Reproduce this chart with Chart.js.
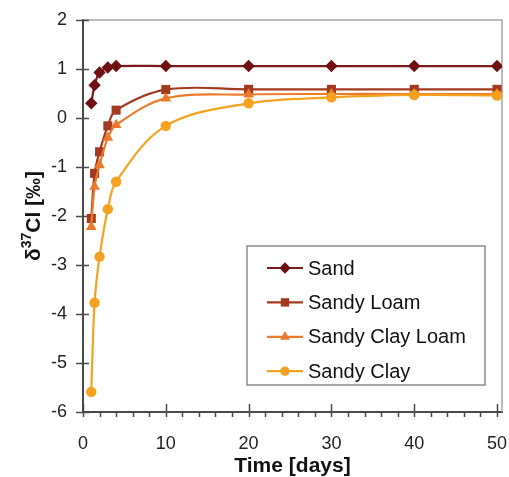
<!DOCTYPE html>
<html><head><meta charset="utf-8">
<style>html,body{margin:0;padding:0;background:#fff}</style>
</head><body>
<canvas id="c" width="509" height="477" style="display:block;width:509px;height:477px"></canvas>
<script src="https://cdn.jsdelivr.net/npm/chart.js@4/dist/chart.umd.min.js"></script>
<script>
// ---- data ----
const days = [1, 1.4, 2, 3, 4, 10, 20, 30, 40, 50];
const sand = [0.30, 0.67, 0.93, 1.03, 1.06, 1.06, 1.06, 1.06, 1.06, 1.06];
const sandyLoam = [-2.05, -1.13, -0.69, -0.16, 0.16, 0.58, 0.585, 0.585, 0.585, 0.585];
const sandyClayLoam = [-2.22, -1.40, -0.96, -0.40, -0.14, 0.40, 0.48, 0.49, 0.49, 0.49];
const sandyClay = [-5.59, -3.77, -2.83, -1.86, -1.30, -0.16, 0.30, 0.42, 0.47, 0.46];
const seriesNames = ['Sand', 'Sandy Loam', 'Sandy Clay Loam', 'Sandy Clay'];
const xTickValues = [0, 10, 20, 30, 40, 50];
const yTickValues = [-6, -5, -4, -3, -2, -1, 0, 1, 2];
const xTitle = 'Time [days]';

const FONT = "'Liberation Sans', Arial, Helvetica, sans-serif";
const pts = arr => days.map((d, i) => ({x: d, y: arr[i]}));

const styles = [
  {line: '#7a1a1c', fill: '#6e0f12', pointStyle: 'rectRot', radius: 6.2},
  {line: '#a3391f', fill: '#a3391f', pointStyle: 'rect', radius: 6.4},
  {line: '#ec7a2c', fill: '#ec7a2c', pointStyle: 'triangle', radius: 6.2},
  {line: '#f4a21f', fill: '#f4a21f', pointStyle: 'circle', radius: 5.2}
];
const seriesData = [sand, sandyLoam, sandyClayLoam, sandyClay];

const datasets = seriesData.map((arr, i) => ({
  label: seriesNames[i],
  data: pts(arr),
  borderColor: styles[i].line,
  backgroundColor: styles[i].fill,
  pointBackgroundColor: styles[i].fill,
  pointBorderColor: styles[i].fill,
  pointBorderWidth: 0,
  pointStyle: styles[i].pointStyle,
  pointRadius: styles[i].radius,
  borderWidth: 2.2,
  tension: 0.35,
  order: 3 - i
}));

const decorPlugin = {
  id: 'decor',
  beforeDatasetsDraw(chart) {
    const {ctx, chartArea: a, scales: {x, y}} = chart;
    ctx.save();
    // frame top/right
    ctx.strokeStyle = '#a6a6a6';
    ctx.lineWidth = 1.5;
    ctx.beginPath();
    ctx.moveTo(a.left, a.top); ctx.lineTo(a.right, a.top); ctx.lineTo(a.right, a.bottom);
    ctx.stroke();
    // ticks
    ctx.strokeStyle = '#4a4a4a';
    ctx.lineWidth = 1.5;
    ctx.beginPath();
    xTickValues.forEach(v => {
      const px = Math.round(x.getPixelForValue(v)) + 0.5;
      ctx.moveTo(px, a.bottom - 8); ctx.lineTo(px, a.bottom + 5);
    });
    for (let v = 2; v < 50; v += 2) {
      if (v % 10 === 0) continue;
      const px = Math.round(x.getPixelForValue(v)) + 0.5;
      ctx.moveTo(px, a.bottom); ctx.lineTo(px, a.bottom + 5);
    }
    yTickValues.forEach(v => {
      const py = Math.round(y.getPixelForValue(v)) + 0.5;
      ctx.moveTo(a.left - 7, py); ctx.lineTo(a.left + 6, py);
    });
    ctx.stroke();
    // y title with superscript
    ctx.translate(40, (a.top + a.bottom) / 2);
    ctx.rotate(-Math.PI / 2);
    ctx.fillStyle = '#111';
    ctx.textBaseline = 'alphabetic';
    const mainF = 'bold 21px ' + FONT, supF = 'bold 14px ' + FONT;
    const parts = [['\u03B4', mainF, 0], ['37', supF, -9], ['Cl [\u2030]', mainF, 0]];
    let total = 0;
    parts.forEach(p => { ctx.font = p[1]; p.push(ctx.measureText(p[0]).width); total += p[3]; });
    let cx = -total / 2;
    parts.forEach(p => { ctx.font = p[1]; ctx.fillText(p[0], cx, p[2]); cx += p[3]; });
    ctx.restore();
  },
  afterDraw(chart) {
    const {ctx} = chart;
    ctx.save();
    const box = {l: 247, t: 246, r: 485, b: 385};
    ctx.fillStyle = '#fff';
    ctx.fillRect(box.l, box.t, box.r - box.l, box.b - box.t);
    ctx.strokeStyle = '#8a8a8a';
    ctx.lineWidth = 1.5;
    ctx.strokeRect(box.l, box.t, box.r - box.l, box.b - box.t);
    chart.data.datasets.forEach((ds, i) => {
      const yy = 268 + i * 34.4;
      ctx.strokeStyle = ds.borderColor;
      ctx.lineWidth = 2.2;
      ctx.beginPath(); ctx.moveTo(267, yy); ctx.lineTo(303, yy); ctx.stroke();
      ctx.fillStyle = ds.pointBackgroundColor;
      ctx.strokeStyle = ds.pointBorderColor;
      Chart.helpers.drawPoint(ctx, {pointStyle: ds.pointStyle, radius: ds.pointRadius - 0.5, rotation: 0, borderWidth: 0}, 285, yy);
      ctx.fillStyle = '#111';
      ctx.font = '20px ' + FONT;
      ctx.textBaseline = 'middle';
      ctx.fillText(ds.label, 308, yy + 1);
    });
    ctx.restore();
  }
};

new Chart(document.getElementById('c'), {
  type: 'line',
  data: {datasets},
  options: {
    responsive: false,
    animation: false,
    devicePixelRatio: 1,
    layout: {padding: {top: 20, right: 7, left: 0, bottom: 0}},
    plugins: {legend: {display: false}, tooltip: {enabled: false}},
    scales: {
      x: {
        type: 'linear', min: 0, max: 50.6,
        afterFit(s) { s.height = 65; s.paddingLeft = 0; s.paddingRight = 0; },
        afterBuildTicks(s) { s.ticks = xTickValues.map(v => ({value: v})); },
        ticks: {font: {family: FONT, size: 18}, color: '#222', padding: 21, maxRotation: 0, includeBounds: false},
        grid: {display: true, drawOnChartArea: false, drawTicks: false},
        border: {color: '#4a4a4a', width: 2},
        title: {display: true, text: xTitle, font: {family: FONT, size: 21, weight: 'bold', lineHeight: 1.0}, color: '#111', padding: {top: 0, bottom: 0}}
      },
      y: {
        type: 'linear', min: -6, max: 2,
        afterFit(s) { s.width = 83; s.paddingTop = 0; s.paddingBottom = 0; },
        afterBuildTicks(s) { s.ticks = yTickValues.map(v => ({value: v})); },
        ticks: {font: {family: FONT, size: 18}, color: '#222', padding: 16},
        grid: {display: true, drawOnChartArea: false, drawTicks: false},
        border: {color: '#4a4a4a', width: 2}
      }
    }
  },
  plugins: [decorPlugin]
});
</script>
</body></html>
